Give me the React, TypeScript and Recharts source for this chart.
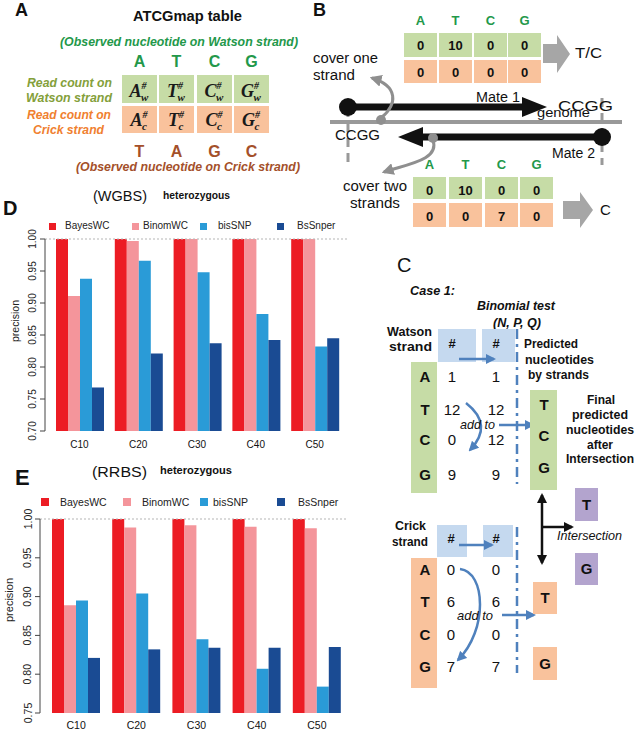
import React from 'react'
import { BarChart, Bar, XAxis, YAxis, ReferenceLine, Legend } from 'recharts'

const FONT = '"Liberation Sans", Arial, Helvetica, sans-serif'

// coverage levels and callers
const coverages = ['C10', 'C20', 'C30', 'C40', 'C50']
const methods = ['BayesWC', 'BinomWC', 'bisSNP', 'BsSnper']
const methodColors = ['#EC1C24', '#F4959B', '#2A9BD7', '#1A4B93']

// WGBS precision (panel D)
const wgbsBayesWC = [1.0, 1.0, 1.0, 1.0, 1.0]
const wgbsBinomWC = [0.911, 0.997, 1.0, 1.0, 1.0]
const wgbsBisSNP = [0.938, 0.966, 0.948, 0.883, 0.832]
const wgbsBsSnper = [0.768, 0.821, 0.837, 0.842, 0.845]
const wgbsTicks = [0.7, 0.75, 0.8, 0.85, 0.9, 0.95, 1.0]

// RRBS precision (panel E)
const rrbsBayesWC = [1.0, 1.0, 1.0, 1.0, 1.0]
const rrbsBinomWC = [0.889, 0.989, 0.992, 0.99, 0.988]
const rrbsBisSNP = [0.895, 0.904, 0.845, 0.807, 0.784]
const rrbsBsSnper = [0.821, 0.832, 0.834, 0.834, 0.835]
const rrbsTicks = [0.75, 0.8, 0.85, 0.9, 0.95, 1.0]

// legend positions: [square x, text x]
const wgbsLegendPos = [[49, 65], [132, 143], [200, 218], [277, 297]]
const rrbsLegendPos = [[41, 60], [123, 142], [200, 213], [277, 298]]

function buildRows(series: number[][]) {
    return coverages.map((c, i) => {
        const row: any = { coverage: c }
        methods.forEach((m, j) => {
            row[m] = series[j][i]
        })
        return row
    })
}

const wgbsData = buildRows([wgbsBayesWC, wgbsBinomWC, wgbsBisSNP, wgbsBsSnper])
const rrbsData = buildRows([rrbsBayesWC, rrbsBinomWC, rrbsBisSNP, rrbsBsSnper])

function RotatedTick(props: any) {
    const { x, y, payload, fs } = props
    return (
        <text
            x={x}
            y={y}
            transform={`rotate(-90 ${x} ${y})`}
            textAnchor="middle"
            fontSize={fs}
            fill="#222"
            fontFamily={FONT}
        >
            {Number(payload.value).toFixed(2)}
        </text>
    )
}

function makeLegend(pos: number[][], fs: number, sq: number) {
    return () => (
        <div style={{ position: 'relative', width: 360, height: 14, fontFamily: FONT }}>
            {methods.map((m, i) => (
                <React.Fragment key={m}>
                    <div
                        style={{
                            position: 'absolute',
                            left: pos[i][0],
                            top: 7 - sq / 2,
                            width: sq,
                            height: sq,
                            background: methodColors[i],
                        }}
                    />
                    <div
                        style={{
                            position: 'absolute',
                            left: pos[i][1],
                            top: 0,
                            fontSize: fs,
                            lineHeight: '14px',
                            color: '#222',
                            whiteSpace: 'nowrap',
                        }}
                    >
                        {m}
                    </div>
                </React.Fragment>
            ))}
        </div>
    )
}

function PrecisionChart(p: any) {
    return (
        <div style={{ position: 'absolute', left: p.left, top: p.top }}>
            <BarChart width={p.width} height={p.height} data={p.data} margin={p.margin} barCategoryGap={6} barGap={0}>
                <ReferenceLine y={1} stroke="#b5b5b5" strokeDasharray="2 2" />
                <XAxis
                    dataKey="coverage"
                    tickLine={false}
                    axisLine={false}
                    tickSize={0}
                    tickMargin={p.xLabelMargin}
                    height={p.xHeight}
                    padding={p.xPad}
                    interval={0}
                    tick={{ fontSize: p.fs, fill: '#111', fontFamily: FONT }}
                />
                <YAxis
                    domain={[p.ticks[0], 1]}
                    ticks={p.ticks}
                    allowDataOverflow
                    width={p.yWidth}
                    interval={0}
                    tickSize={5}
                    tickMargin={p.yTickMargin}
                    axisLine={{ stroke: '#444' }}
                    tickLine={{ stroke: '#444' }}
                    tick={<RotatedTick fs={p.fs} />}
                />
                <Legend
                    layout="vertical"
                    align="center"
                    verticalAlign="middle"
                    content={makeLegend(p.legendPos, p.fs, p.sq)}
                    wrapperStyle={{ left: 0, top: p.legendTop, width: p.width, height: 14 }}
                />
                {methods.map((m, i) => (
                    <Bar key={m} dataKey={m} fill={methodColors[i]} isAnimationActive={false} />
                ))}
            </BarChart>
        </div>
    )
}

function Txt({ x, y, w, s = 12, b = true, i = false, c = '#111', a = 'start', ff = FONT, children }: any) {
    return (
        <text
            x={x}
            y={y}
            fontSize={s}
            fontWeight={b ? 'bold' : 'normal'}
            fontStyle={i ? 'italic' : 'normal'}
            fill={c}
            textAnchor={a}
            fontFamily={ff}
            textLength={w}
            lengthAdjust={w ? 'spacingAndGlyphs' : undefined}
        >
            {children}
        </text>
    )
}

const GREEN_TXT = '#23984A'
const OLIVE_TXT = '#84A03A'
const ORANGE_TXT = '#F0802F'
const BROWN_TXT = '#A4502A'
const CELL_GREEN = '#C6DCA6'
const CELL_ORANGE = '#F9C29C'
const BOX_BLUE = '#C5D9EF'
const BOX_PURPLE = '#B3A4CE'
const ARROW_BLUE = '#4F81BD'
const GRAY = '#8f8f8f'

// panel A / B table letters
const watsonLetters = ['A', 'T', 'C', 'G']
const crickLetters = ['T', 'A', 'G', 'C']
const aCellX = [122, 159, 197, 234]
const bTopCellX = [404, 439, 474, 508]
const bTopWatson = ['0', '10', '0', '0']
const bTopCrick = ['0', '0', '0', '0']
const bLowCellX = [413, 449, 485, 520]
const bLowWatson = ['0', '10', '0', '0']
const bLowCrick = ['0', '0', '7', '0']

// panel C counts
const cWatsonRaw = ['1', '12', '0', '9']
const cWatsonAdded = ['1', '12', '12', '9']
const cCrickRaw = ['0', '6', '0', '7']
const cCrickAdded = ['0', '6', '0', '7']
const cWatsonY = [382, 415, 445, 480]
const cCrickY = [575, 607, 640, 672]

function CountCell({ x, y, letter, sub }: any) {
    return (
        <text x={x} y={y} textAnchor="middle" fontFamily='"Liberation Serif", serif' fontWeight="bold" fontStyle="italic" fill="#1a1a1a" fontSize={18}>
            {letter}
            <tspan dy={-8} fontSize={10}>#</tspan>
            <tspan dx={-5.5} dy={12} fontSize={11}>{sub}</tspan>
        </text>
    )
}

function Diagram() {
    return (
        <svg width={637} height={730} style={{ position: 'absolute', left: 0, top: 0 }} fontFamily={FONT}>
            <defs>
                <marker id="mBlue" viewBox="0 0 10 10" refX="8" refY="5" markerWidth="4" markerHeight="4" orient="auto">
                    <path d="M0,0 L10,5 L0,10 z" fill={ARROW_BLUE} />
                </marker>
                <marker id="mBlack" viewBox="0 0 10 10" refX="8" refY="5" markerWidth="4" markerHeight="4" orient="auto">
                    <path d="M0,0 L10,5 L0,10 z" fill="#111" />
                </marker>
                <marker id="mGray" viewBox="0 0 10 10" refX="8" refY="5" markerWidth="4" markerHeight="4" orient="auto">
                    <path d="M0,0 L10,5 L0,10 z" fill={GRAY} />
                </marker>
            </defs>

            {/* Panel A */}
            <Txt x={15} y={16} s={18}>A</Txt>
            <Txt x={133} y={21} w={109} s={14}>ATCGmap table</Txt>
            <Txt x={60} y={46} w={238} s={12} i c={GREEN_TXT}>(Observed nucleotide on Watson strand)</Txt>
            {watsonLetters.map((l, k) => (
                <Txt key={'aw' + k} x={aCellX[k] + 17.5} y={67} s={16} c={GREEN_TXT} a="middle">{l}</Txt>
            ))}
            {aCellX.map((x, k) => (
                <g key={'ac' + k}>
                    <rect x={x} y={75} width={35} height={28} fill={CELL_GREEN} />
                    <rect x={x} y={106} width={35} height={27} fill={CELL_ORANGE} />
                    <CountCell x={x + 17} y={97} letter={watsonLetters[k]} sub="w" />
                    <CountCell x={x + 17} y={126} letter={watsonLetters[k]} sub="c" />
                </g>
            ))}
            <Txt x={27} y={87} w={85} s={12} i c={OLIVE_TXT}>Read count on</Txt>
            <Txt x={26} y={102} w={86} s={12} i c={OLIVE_TXT}>Watson strand</Txt>
            <Txt x={27} y={119} w={84} s={12} i c={ORANGE_TXT}>Read count on</Txt>
            <Txt x={33} y={134} w={71} s={12} i c={ORANGE_TXT}>Crick strand</Txt>
            {crickLetters.map((l, k) => (
                <Txt key={'ab' + k} x={aCellX[k] + 17.5} y={157} s={16} c={BROWN_TXT} a="middle">{l}</Txt>
            ))}
            <Txt x={76} y={171} w={224} s={12} i c={BROWN_TXT}>(Observed nucleotide on Crick strand)</Txt>

            {/* Panel B */}
            <Txt x={313} y={16} s={18}>B</Txt>
            {watsonLetters.map((l, k) => (
                <Txt key={'bt' + k} x={bTopCellX[k] + 16.5} y={25} s={13} c={GREEN_TXT} a="middle">{l}</Txt>
            ))}
            {bTopCellX.map((x, k) => (
                <g key={'bc' + k}>
                    <rect x={x} y={33} width={33} height={24} fill={CELL_GREEN} />
                    <rect x={x} y={60} width={33} height={23} fill={CELL_ORANGE} />
                    <Txt x={x + 16.5} y={50} s={13} a="middle">{bTopWatson[k]}</Txt>
                    <Txt x={x + 16.5} y={77} s={13} a="middle">{bTopCrick[k]}</Txt>
                </g>
            ))}
            <polygon points="543,44 557,44 557,35 570,54 557,73 557,63 543,63" fill="#a6a6a6" />
            <Txt x={575} y={58} w={27} s={14} b={false}>T/C</Txt>
            <Txt x={313} y={63} w={65} s={14} b={false}>cover one</Txt>
            <Txt x={313} y={80} w={42} s={14} b={false}>strand</Txt>

            <line x1={330} y1={122} x2={622} y2={122} stroke="#999" strokeWidth={4} />
            <line x1={348} y1={108} x2={348} y2={167} stroke="#999" strokeWidth={3} strokeDasharray="9 6" />
            <line x1={602} y1={98} x2={602} y2={165} stroke="#999" strokeWidth={3} strokeDasharray="9 6" />
            <line x1={348} y1={107} x2={525} y2={107} stroke="#111" strokeWidth={7} />
            <polygon points="522,97 547,107 522,117" fill="#111" />
            <circle cx={348} cy={107} r={9} fill="#111" />
            <line x1={420} y1={137} x2={602} y2={137} stroke="#111" strokeWidth={7} />
            <polygon points="423,127 398,137 423,147" fill="#111" />
            <circle cx={602} cy={137} r={9} fill="#111" />
            <Txt x={476} y={102} w={44} s={14} b={false}>Mate 1</Txt>
            <Txt x={558} y={111} w={55} s={15} b={false}>CCGG</Txt>
            <Txt x={537} y={117} w={53} s={13} b={false}>genome</Txt>
            <Txt x={335} y={140} w={45} s={14} b={false}>CCGG</Txt>
            <Txt x={552} y={158} w={43} s={14} b={false}>Mate 2</Txt>
            <circle cx={381} cy={120} r={5} fill={GRAY} />
            <path d="M381,118 C398,104 398,86 372,78" fill="none" stroke={GRAY} strokeWidth={3} markerEnd="url(#mGray)" />
            <circle cx={433} cy={138} r={5} fill={GRAY} />
            <path d="M433,140 C440,160 408,164 384,172" fill="none" stroke={GRAY} strokeWidth={3} markerEnd="url(#mGray)" />

            {watsonLetters.map((l, k) => (
                <Txt key={'bl' + k} x={bLowCellX[k] + 16.5} y={169} s={13} c={GREEN_TXT} a="middle">{l}</Txt>
            ))}
            {bLowCellX.map((x, k) => (
                <g key={'bd' + k}>
                    <rect x={x} y={177} width={33} height={22} fill={CELL_GREEN} />
                    <rect x={x} y={203} width={33} height={24} fill={CELL_ORANGE} />
                    <Txt x={x + 16.5} y={195} s={13} a="middle">{bLowWatson[k]}</Txt>
                    <Txt x={x + 16.5} y={221} s={13} a="middle">{bLowCrick[k]}</Txt>
                </g>
            ))}
            <Txt x={343} y={191} w={64} s={14} b={false}>cover two</Txt>
            <Txt x={350} y={208} w={50} s={14} b={false}>strands</Txt>
            <polygon points="563,201 580,201 580,192 593,210 580,228 580,219 563,219" fill="#a6a6a6" />
            <Txt x={600} y={215} s={15} b={false}>C</Txt>

            {/* Panel C */}
            <Txt x={397} y={272} s={20} b={false}>C</Txt>
            <Txt x={410} y={295} w={45} s={12} i>Case 1:</Txt>
            <Txt x={477} y={310} w={78} s={12} i>Binomial test</Txt>
            <Txt x={493} y={327} w={48} s={12} i>(N, P, Q)</Txt>
            <Txt x={387} y={336} w={45} s={13}>Watson</Txt>
            <Txt x={389} y={351} w={43} s={13}>strand</Txt>
            <rect x={438} y={329} width={38} height={33} fill={BOX_BLUE} />
            <rect x={482} y={329} width={33} height={33} fill={BOX_BLUE} />
            <Txt x={452} y={348} s={13} a="middle">#</Txt>
            <Txt x={496} y={348} s={13} a="middle">#</Txt>
            <line x1={459} y1={359} x2={494} y2={359} stroke={ARROW_BLUE} strokeWidth={2.5} markerEnd="url(#mBlue)" />
            <line x1={517} y1={329} x2={517} y2={484} stroke={ARROW_BLUE} strokeWidth={2.5} strokeDasharray="10 5 3 5" />
            <rect x={411} y={362} width={26} height={131} fill={CELL_GREEN} />
            {watsonLetters.map((l, k) => (
                <g key={'cw' + k}>
                    <Txt x={425} y={cWatsonY[k]} s={15} a="middle">{l}</Txt>
                    <Txt x={452} y={cWatsonY[k]} s={15} b={false} a="middle">{cWatsonRaw[k]}</Txt>
                    <Txt x={496} y={cWatsonY[k]} s={15} b={false} a="middle">{cWatsonAdded[k]}</Txt>
                </g>
            ))}
            <path d="M466,403 Q494,425 470,450" fill="none" stroke={ARROW_BLUE} strokeWidth={2.5} markerEnd="url(#mBlue)" />
            <Txt x={460} y={429} w={35} s={13} b={false} i>add to</Txt>
            <line x1={499} y1={425} x2={533} y2={425} stroke={ARROW_BLUE} strokeWidth={2.5} markerEnd="url(#mBlue)" />
            <Txt x={524} y={348} w={54} s={13}>Predicted</Txt>
            <Txt x={525} y={364} w={69} s={13}>nucleotides</Txt>
            <Txt x={528} y={379} w={61} s={13}>by strands</Txt>
            <rect x={530} y={390} width={27} height={100} fill={CELL_GREEN} />
            <Txt x={544} y={410} s={15} a="middle">T</Txt>
            <Txt x={544} y={441} s={15} a="middle">C</Txt>
            <Txt x={544} y={473} s={15} a="middle">G</Txt>
            <Txt x={587} y={404} w={28} s={13}>Final</Txt>
            <Txt x={572} y={419} w={56} s={13}>predicted</Txt>
            <Txt x={566} y={434} w={68} s={13}>nucleotides</Txt>
            <Txt x={587} y={449} w={26} s={13}>after</Txt>
            <Txt x={566} y={463} w={68} s={13}>Intersection</Txt>
            <rect x={575} y={488} width={23} height={33} fill={BOX_PURPLE} />
            <Txt x={586.5} y={510} s={15} a="middle">T</Txt>
            <rect x={575} y={553} width={23} height={32} fill={BOX_PURPLE} />
            <Txt x={586.5} y={574} s={15} a="middle">G</Txt>
            <line x1={542} y1={527} x2={542} y2={495} stroke="#111" strokeWidth={2.5} markerEnd="url(#mBlack)" />
            <line x1={542} y1={527} x2={542} y2={563} stroke="#111" strokeWidth={2.5} markerEnd="url(#mBlack)" />
            <line x1={542} y1={527} x2={572} y2={527} stroke="#111" strokeWidth={2.5} markerEnd="url(#mBlack)" />
            <Txt x={557} y={540} w={65} s={12} i b={false}>Intersection</Txt>

            <Txt x={395} y={530} w={31} s={13}>Crick</Txt>
            <Txt x={392} y={546} w={36} s={13}>strand</Txt>
            <rect x={437} y={525} width={30} height={32} fill={BOX_BLUE} />
            <rect x={483} y={525} width={30} height={32} fill={BOX_BLUE} />
            <Txt x={451} y={543} s={13} a="middle">#</Txt>
            <Txt x={496} y={543} s={13} a="middle">#</Txt>
            <line x1={459} y1={545} x2={492} y2={545} stroke={ARROW_BLUE} strokeWidth={2.5} markerEnd="url(#mBlue)" />
            <line x1={517} y1={527} x2={517} y2={673} stroke={ARROW_BLUE} strokeWidth={2.5} strokeDasharray="10 5 3 5" />
            <rect x={411} y={558} width={26} height={130} fill={CELL_ORANGE} />
            {watsonLetters.map((l, k) => (
                <g key={'cc' + k}>
                    <Txt x={425} y={cCrickY[k]} s={15} a="middle">{l}</Txt>
                    <Txt x={451} y={cCrickY[k]} s={15} b={false} a="middle">{cCrickRaw[k]}</Txt>
                    <Txt x={496} y={cCrickY[k]} s={15} b={false} a="middle">{cCrickAdded[k]}</Txt>
                </g>
            ))}
            <path d="M460,569 C486,572 488,630 458,660" fill="none" stroke={ARROW_BLUE} strokeWidth={2.5} markerEnd="url(#mBlue)" />
            <Txt x={457} y={620} w={36} s={13} b={false} i>add to</Txt>
            <line x1={502} y1={615} x2={534} y2={615} stroke={ARROW_BLUE} strokeWidth={2.5} markerEnd="url(#mBlue)" />
            <rect x={533} y={582} width={24} height={32} fill={CELL_ORANGE} />
            <Txt x={545} y={603} s={15} a="middle">T</Txt>
            <rect x={533} y={647} width={24} height={33} fill={CELL_ORANGE} />
            <Txt x={545} y={669} s={15} a="middle">G</Txt>

            {/* Panel D / E titles */}
            <Txt x={3} y={215} s={20}>D</Txt>
            <Txt x={93} y={201} w={54} s={14.5} b={false}>(WGBS)</Txt>
            <Txt x={163} y={199} w={67} s={10}>heterozygous</Txt>
            <text x={19} y={321} transform="rotate(-90 19 321)" textAnchor="middle" fontSize={10.5} fill="#222">precision</text>
            <Txt x={15} y={485} s={22}>E</Txt>
            <Txt x={92} y={477} w={55} s={14.5} b={false}>(RRBS)</Txt>
            <Txt x={160} y={474} w={72} s={10.5}>heterozygous</Txt>
            <text x={13} y={600} transform="rotate(-90 13 600)" textAnchor="middle" fontSize={11} fill="#222">precision</text>
        </svg>
    )
}

export default function App() {
    return (
        <div style={{ position: 'absolute', left: 0, top: 0, width: 637, height: 730, background: '#fff', fontFamily: FONT }}>
            <PrecisionChart
                data={wgbsData}
                ticks={wgbsTicks}
                left={0}
                top={180}
                width={360}
                height={280}
                margin={{ top: 59, right: 12, bottom: 9, left: 15 }}
                yWidth={30}
                xHeight={20}
                xPad={{ left: 5, right: 4 }}
                yTickMargin={4}
                xLabelMargin={10}
                legendPos={wgbsLegendPos}
                legendTop={39}
                fs={10}
                sq={7}
            />
            <PrecisionChart
                data={rrbsData}
                ticks={rrbsTicks}
                left={0}
                top={440}
                width={360}
                height={290}
                margin={{ top: 79, right: 13, bottom: 1, left: 12 }}
                yWidth={28}
                xHeight={16}
                xPad={{ left: 6, right: 0 }}
                yTickMargin={3.5}
                xLabelMargin={9}
                legendPos={rrbsLegendPos}
                legendTop={55}
                fs={10.5}
                sq={8}
            />
            <Diagram />
        </div>
    )
}
